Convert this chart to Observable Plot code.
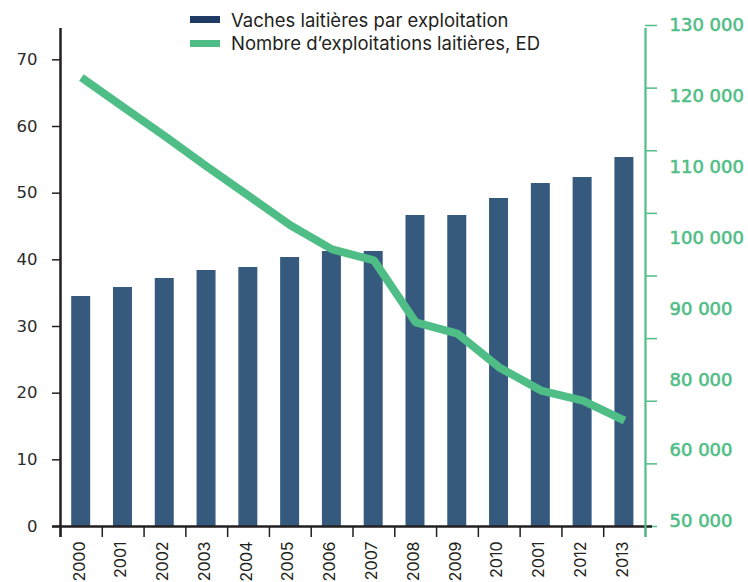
<!DOCTYPE html>
<html><head><meta charset="utf-8">
<script src="https://cdn.jsdelivr.net/npm/d3@7"></script>
<script src="https://cdn.jsdelivr.net/npm/@observablehq/plot@0.6"></script>
<style>
body{margin:0;background:#fff;}
#wrap{position:relative;width:748px;height:582px;overflow:hidden;font-family:Inter, "DejaVu Sans", sans-serif;}
#legend{position:absolute;left:190px;top:8px;font-size:18.5px;color:#231f20;}
.row{display:flex;align-items:center;height:23.5px;}
.sw{width:30px;height:7px;margin-right:11px;flex:none;}
</style></head><body><div id="wrap"><div id="legend"></div></div>
<script>
// Category labels (as printed, including the "2001" typo in the 12th position)
const years = ["2000","2001","2002","2003","2004","2005","2006","2007","2008","2009","2010","2001","2012","2013"];
// Dairy cows per farm (left axis)
const cowsPerFarm = [34.5, 35.85, 37.2, 38.4, 38.85, 40.35, 41.25, 41.25, 46.65, 46.65, 49.2, 51.45, 52.35, 55.35];
// Number of dairy farms (right axis)
const dairyFarms = [121700, 117000, 112300, 107500, 102800, 98100, 94250, 92500, 82600, 80800, 75400, 71700, 70100, 66900];
// Axis ticks
const leftTicks = [0, 10, 20, 30, 40, 50, 60, 70];
const rightTicks = [50000, 60000, 70000, 80000, 90000, 100000, 110000, 120000, 130000];
const rightLabels = ["130 000", "120 000", "110 000", "100 000", "90 000", "80 000", "60 000", "50 000"];
const legendItems = [
  {label: "Vaches laitières par exploitation", color: "#1d3b65"},
  {label: "Nombre d’exploitations laitières, ED", color: "#4fbe86"}
];

const BAR = "#365a7e", GREEN = "#4fbe86", INK = "#231f20";
const NUM_FONT = "'DejaVu Sans', sans-serif";
const Y_MAX = 75.15, R_MIN = 50000, R_MAX = 130000;
const toLeft = r => (r - R_MIN) / (R_MAX - R_MIN) * Y_MAX;
const LABEL_BOTTOM = 0.75; // left-units position of the lowest right label
const rightLabelRows = rightLabels.map((t, k) => ({t, pos: Y_MAX - k * (Y_MAX - LABEL_BOTTOM) / (rightLabels.length - 1)}));

const rows = years.map((label, i) => ({i, label, cows: cowsPerFarm[i], farms: dairyFarms[i]}));
const n = years.length;

const chart = Plot.plot({
  width: 748, height: 582,
  marginLeft: 60, marginRight: 103, marginTop: 25, marginBottom: 56,
  style: {fontFamily: "Inter, 'DejaVu Sans', sans-serif", fontSize: "17px", background: "#fff"},
  x: {type: "linear", domain: [0, n], axis: null},
  y: {type: "linear", domain: [0, Y_MAX], axis: null},
  marks: [
    Plot.rectY(rows, {x1: d => d.i, x2: d => d.i + 1, y1: 0, y2: "cows", fill: BAR, insetLeft: 11.2, insetRight: 11.6}),
    Plot.line(rows, {x: d => d.i + 0.5, y: d => toLeft(d.farms), stroke: GREEN, strokeWidth: 8, strokeLinejoin: "miter", strokeLinecap: "butt"}),
    // bottom category boundary ticks
    Plot.ruleX(d3.range(n + 1), {y1: 0, y2: 0, insetBottom: -11, stroke: INK, strokeWidth: 1.5}),
    // left ticks
    Plot.ruleY(leftTicks, {x1: 0, x2: 0, insetLeft: -8, stroke: INK, strokeWidth: 1.5}),
    Plot.text(leftTicks, {x: 0, y: d => d, text: d => String(d), dx: -23, textAnchor: "end", fill: "#2b2b2b", fontSize: 16.5, fontFamily: NUM_FONT}),
    // right ticks
    Plot.ruleY(rightTicks, {y: d => toLeft(d), x1: n, x2: n, insetRight: -12, stroke: GREEN, strokeWidth: 1.5}),
    Plot.text(rightLabelRows, {x: n, y: "pos", text: "t", dx: 24, textAnchor: "start", fill: GREEN, stroke: GREEN, strokeWidth: 0.6, fontSize: 18, fontFamily: NUM_FONT}),
    // axis lines
    Plot.ruleX([0], {insetTop: 3, insetBottom: -11, stroke: INK, strokeWidth: 2.5}),
    Plot.ruleY([0], {insetLeft: -8, insetRight: -7, stroke: INK, strokeWidth: 2.5}),
    Plot.ruleX([n], {insetTop: 3, insetBottom: -11, stroke: GREEN, strokeWidth: 2.2}),
    // year labels
    Plot.text(rows, {x: d => d.i + 0.5, y: 0, text: "label", rotate: -90, textAnchor: "end", dy: 15, dx: -2, fill: INK, fontSize: 16})
  ]
});
const wrap = document.getElementById("wrap");
wrap.insertBefore(chart, wrap.firstChild);
const legend = document.getElementById("legend");
for (const item of legendItems) {
  const row = document.createElement("div"); row.className = "row";
  const sw = document.createElement("div"); sw.className = "sw"; sw.style.background = item.color;
  const tx = document.createElement("span"); tx.textContent = item.label;
  row.appendChild(sw); row.appendChild(tx); legend.appendChild(row);
}
</script></body></html>
